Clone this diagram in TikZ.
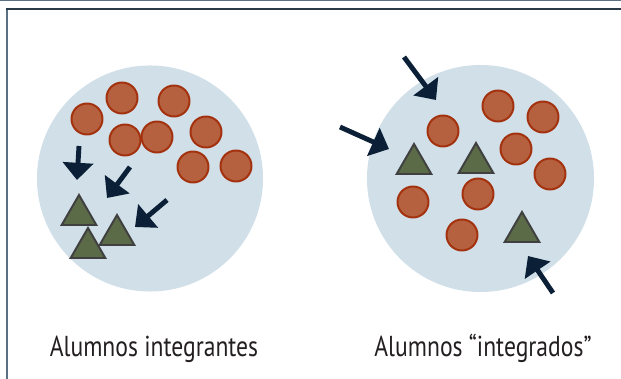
\documentclass[tikz,border=0pt]{standalone}
\usepackage{fontspec}
\setmainfont{PT Sans}[FakeStretch=0.82]
\usetikzlibrary{shapes.geometric,arrows.meta}
\definecolor{pool}{HTML}{D0DFE8}
\definecolor{brick}{HTML}{B5603E}
\definecolor{brickline}{HTML}{A3310E}
\definecolor{olive}{HTML}{5B6B48}
\definecolor{oliveline}{HTML}{404040}
\definecolor{navy}{HTML}{0B2036}
\definecolor{slate}{HTML}{5B7083}
\definecolor{frameline}{HTML}{2A3A48}
\definecolor{ink}{HTML}{231F20}

\begin{document}
\begin{tikzpicture}[x=0.025cm, y=-0.025cm]
        \tikzstyle{ball}=[circle, fill=brick, draw=brickline, line width=1.4pt, minimum size=0.775cm, inner sep=0pt]
        \tikzstyle{tri}=[regular polygon, regular polygon sides=3, fill=olive, draw=oliveline, line width=1.4pt, minimum size=1cm, inner sep=0pt]
        \tikzstyle{push}=[draw=navy, line width=3.5pt, -{Triangle[width=0.75cm, length=0.43cm]}]
        \tikzstyle{caption}=[anchor=base, text=ink, font=\fontsize{20.5}{24}\selectfont]
        \useasboundingbox (0,0) rectangle (621,379);
        % frame
        \fill[slate] (0,0) rectangle (621,1.5);
        \draw[slate, line width=1.5pt] (7,9) -- (7,379);
        \draw[frameline, line width=1.5pt] (6,9) -- (621,9);
        % left group
        \node[circle, fill=pool, minimum size=5.65cm, inner sep=0pt] (poolL) at (150,178.5) {};
        \node[ball] (l1) at (87,119) {};
        \node[ball] (l2) at (122,98) {};
        \node[ball] (l3) at (174,101) {};
        \node[ball] (l4) at (125,140) {};
        \node[ball] (l5) at (157,137) {};
        \node[ball] (l6) at (206,132) {};
        \node[ball] (l7) at (193,167) {};
        \node[ball] (l8) at (236,166) {};
        \node[tri] (lt1) at (79,215) {};
        \node[tri] (lt2) at (117,235) {};
        \node[tri] (lt3) at (88,248) {};
        \coordinate (la1) at (79,146);
        \coordinate (lb1) at (77,180);
        \coordinate (la2) at (130,167);
        \coordinate (lb2) at (107,198);
        \coordinate (la3) at (167,200);
        \coordinate (lb3) at (135,227);
        \foreach \i in {1,2,3} \draw[push] (la\i) -- (lb\i);
        \node[caption] (capL) at (154,357) {Alumnos integrantes};
        % right group
        \node[circle, fill=pool, minimum size=5.675cm, inner sep=0pt] (poolR) at (480.5,178.5) {};
        \node[ball] (r1) at (443,131) {};
        \node[ball] (r2) at (498,106) {};
        \node[ball] (r3) at (543,117) {};
        \node[ball] (r4) at (516,149) {};
        \node[ball] (r5) at (550,174) {};
        \node[ball] (r6) at (413,202) {};
        \node[ball] (r7) at (478,194) {};
        \node[ball] (r8) at (462,235) {};
        \node[tri] (rt1) at (414,164) {};
        \node[tri] (rt2) at (476,163) {};
        \node[tri] (rt3) at (522,232) {};
        \coordinate (ra1) at (404,57);
        \coordinate (rb1) at (436,100);
        \coordinate (ra2) at (340,127);
        \coordinate (rb2) at (389,149);
        \coordinate (ra3) at (553,293);
        \coordinate (rb3) at (528,256);
        \foreach \i in {1,2,3} \draw[push] (ra\i) -- (rb\i);
        \node[caption] (capR) at (483,357) {Alumnos “integrados”};
    \end{tikzpicture}
\end{document}
